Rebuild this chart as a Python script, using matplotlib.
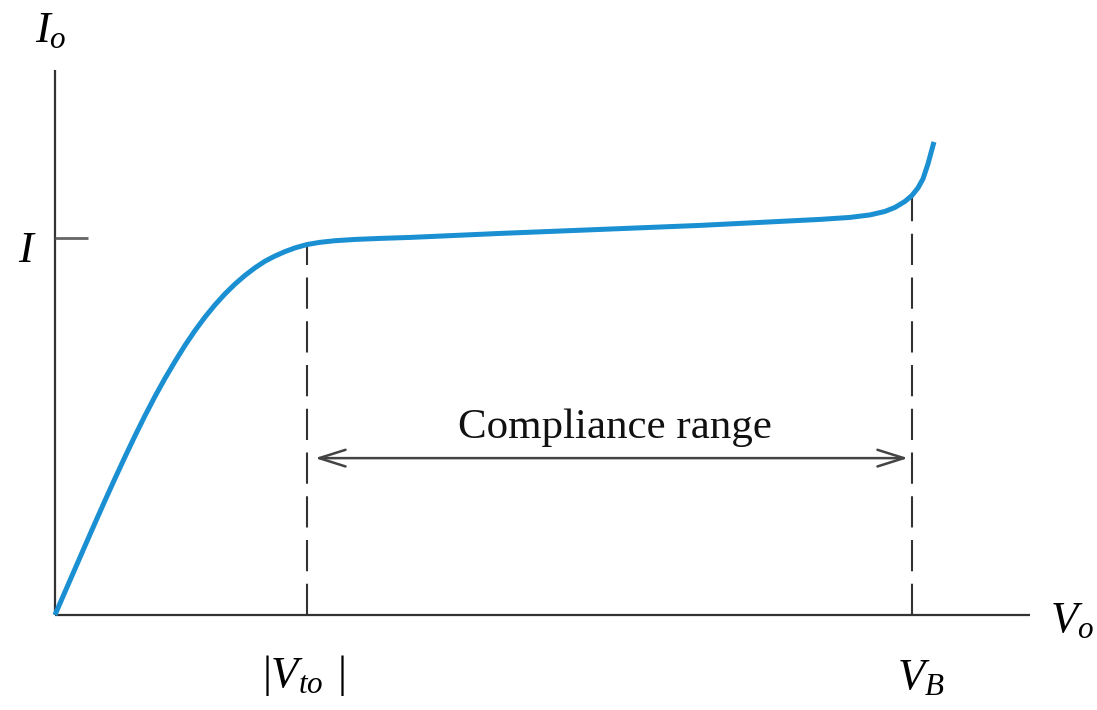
import matplotlib
matplotlib.use("Agg")
import matplotlib.pyplot as plt

# curve (Vo, Io), normalised so |Vto| = 1 and I = 1
vo = [0.0, 0.1190, 0.1587, 0.1984, 0.2381, 0.2778, 0.3175, 0.3571, 0.3968,
      0.4365, 0.4762, 0.5159, 0.5556, 0.5952, 0.6349, 0.6746, 0.7143,
      0.7540, 0.7937, 0.8333, 0.8730, 0.9127, 0.9524, 1.0, 1.0516, 1.1111,
      1.1905, 1.2897, 1.4087, 1.7659, 2.1627, 2.5595, 2.8770, 3.0357,
      3.1548, 3.2341, 3.2937, 3.3333, 3.3730, 3.4008, 3.4246, 3.4444,
      3.4643, 3.4762, 3.4881]
io = [0.0, 0.1830, 0.2435, 0.3032, 0.3618, 0.4191, 0.4748, 0.5284, 0.5793,
      0.6273, 0.6721, 0.7149, 0.7541, 0.7899, 0.8223, 0.8515, 0.8775,
      0.9005, 0.9207, 0.9382, 0.9520, 0.9637, 0.9735, 0.9825, 0.9883,
      0.9926, 0.9960, 0.9987, 1.0013, 1.0119, 1.0225, 1.0332, 1.0438,
      1.0491, 1.0544, 1.0610, 1.0703, 1.0809, 1.0968, 1.1127, 1.1326,
      1.1565, 1.1963, 1.2255, 1.2546]

v_to = 1.0
v_b = 3.4008
i_level = 1.0
i_at_vto = 0.9825
i_at_vb = 1.1127
x_end = 3.869
y_end = 1.446
arrow_y = 0.416

plt.rcParams["mathtext.fontset"] = "custom"
plt.rcParams["mathtext.rm"] = "Liberation Serif"
plt.rcParams["mathtext.it"] = "Liberation Serif:italic"

fig = plt.figure(figsize=(10.97, 7.10), dpi=100)
ax = fig.add_axes([0, 0, 1, 1])
ax.set_xlim(-0.218, 4.135)
ax.set_ylim(-0.252, 1.631)
ax.axis("off")

axis_col = "#333333"
# axes
ax.plot([0, x_end], [0, 0], color=axis_col, lw=1.6, solid_capstyle="butt")
ax.plot([0, 0], [0, y_end], color=axis_col, lw=1.6, solid_capstyle="butt")
# tick at I
ax.plot([0, 0.131], [i_level, i_level], color="#666666", lw=2.0,
        solid_capstyle="butt")

# dashed markers
for v, top in [(v_to, i_at_vto), (v_b, i_at_vb)]:
    ax.plot([v, v], [0, top], color=axis_col, lw=1.5,
            linestyle=(0, (15, 6)))

# the curve
ax.plot(vo, io, color="#1a8fd2", lw=3.6, solid_capstyle="butt",
        solid_joinstyle="round", zorder=5)

# compliance range arrow
ax.annotate("", xy=(1.032, arrow_y), xytext=(3.385, arrow_y),
            arrowprops=dict(arrowstyle="<->,head_length=1.9,head_width=0.6",
                            color="#444444", lw=1.8,
                            shrinkA=0, shrinkB=0))
ax.text(2.222, 0.47, "Compliance range", ha="center", va="baseline",
        fontsize=31, family="Liberation Serif", color="#111111")

# labels
ax.text(-0.079, 1.52, r"$I_o$", ha="left", va="baseline", fontsize=32)
ax.text(-0.147, 0.936, r"$I$", ha="left", va="baseline", fontsize=32)
ax.text(3.948, -0.045, r"$V_o$", ha="left", va="baseline", fontsize=32)
ax.text(0.985, -0.191, r"$|V_{to}\;\,|$", ha="center", va="baseline",
        fontsize=32)
ax.text(3.437, -0.197, r"$V_B$", ha="center", va="baseline", fontsize=32)

fig.savefig("out.png", dpi=100)
